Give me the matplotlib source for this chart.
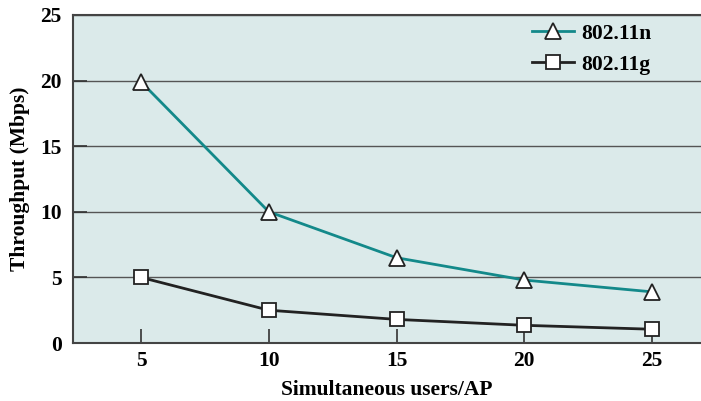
import matplotlib.pyplot as plt
import numpy as np

# Throughput vs. simultaneous users per AP
users = [5, 10, 15, 20, 25]
thr_n = [19.9, 10.0, 6.5, 4.8, 3.9]
thr_g = [5.0, 2.5, 1.8, 1.35, 1.05]
labels = ['802.11n', '802.11g']

plt.rcParams['font.family'] = ['Liberation Serif', 'DejaVu Serif']
plt.rcParams['font.weight'] = 'bold'
fs = 15.5

fig = plt.figure(figsize=(7.01, 4.01), dpi=100)
ax = fig.add_axes([0.104, 0.1446, 0.896, 0.818])
ax.set_facecolor('#dbeaea')

ax.plot(users, thr_n, color='#13898a', lw=2, marker='^', ms=11,
        mfc='white', mec='#222222', mew=1.3, label=labels[0], zorder=3)
ax.plot(users, thr_g, color='#222222', lw=2, marker='s', ms=10,
        mfc='white', mec='#222222', mew=1.3, label=labels[1], zorder=3)

ax.set_xlim(2.33, 26.92)
ax.set_ylim(0, 25)
ax.set_xticks(users)
ax.set_yticks([0, 5, 10, 15, 20, 25])
ax.tick_params(axis='both', direction='in', length=10, width=1.2,
               labelsize=fs, color='#333333')
ax.tick_params(axis='x', pad=6)
ax.tick_params(axis='y', pad=8)
for lbl in ax.get_xticklabels() + ax.get_yticklabels():
    lbl.set_fontweight('bold')

ax.grid(axis='y', color='#555555', lw=1)
ax.set_axisbelow(True)
ax.spines['right'].set_visible(False)
for s in ['left', 'top', 'bottom']:
    ax.spines[s].set_color('#444444')
    ax.spines[s].set_linewidth(1.5)

ax.set_xlabel('Simultaneous users/AP', fontsize=fs, fontweight='bold', labelpad=6)
ax.set_ylabel('Throughput (Mbps)', fontsize=fs, fontweight='bold', labelpad=7)

leg = ax.legend(loc='upper left', bbox_to_anchor=(0.70, 1.032), frameon=False,
                fontsize=fs, handlelength=1.95, handletextpad=0.35,
                labelspacing=0.5)
for t in leg.get_texts():
    t.set_fontweight('bold')

fig.savefig('out.png', dpi=100)
